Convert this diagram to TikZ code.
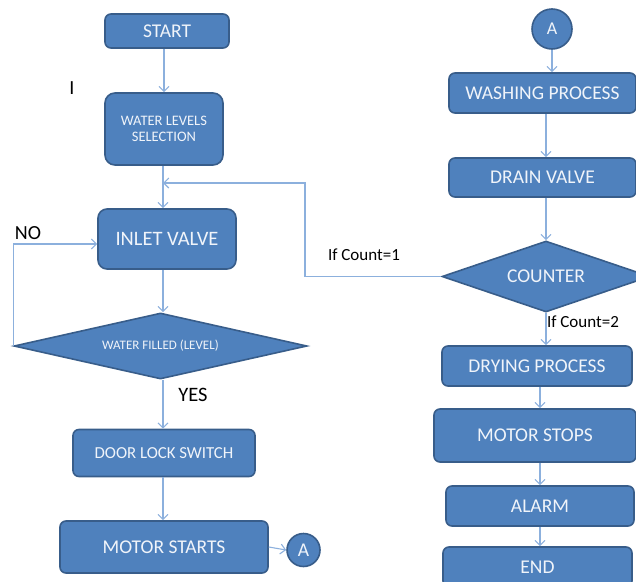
\documentclass[tikz,border=0pt]{standalone}
\usepackage{fontspec}
\setmainfont{Carlito}
\usepackage{tikz}
\usetikzlibrary{arrows.meta}
\usetikzlibrary{shapes.geometric}
\definecolor{boxfill}{RGB}{79,129,189}
\definecolor{boxline}{RGB}{56,93,138}
\definecolor{linkline}{RGB}{140,176,221}
\definecolor{boxtext}{RGB}{240,244,250}
\tikzset{>={Straight Barb[length=5pt,width=10pt]}}
\tikzset{
    procbox/.style={draw=boxline, fill=boxfill, line width=1.6pt, rounded corners=6pt,
        text=boxtext, inner sep=0pt, align=center},
    decision/.style={diamond, draw=boxline, fill=boxfill, line width=1.6pt,
        text=boxtext, inner sep=0pt},
    connector/.style={circle, draw=boxline, fill=boxfill, line width=1.6pt,
        text=boxtext, inner sep=0pt},
    link/.style={draw=linkline, line width=1.1pt},
    tag/.style={text=black, inner sep=0pt}
}
\newcommand{\fs}[1]{\fontsize{#1}{1.15\dimexpr#1pt\relax}\selectfont}

\begin{document}
\begin{tikzpicture}[x=1pt, y=-1pt]
            \useasboundingbox (0,0) rectangle (636,581);
            \clip (0,0) rectangle (636,581);
            % left column
            \node[procbox, minimum width=124pt, minimum height=34pt, font=\fs{19.5}] (start) at (167,31) {START};
            \node[procbox, rounded corners=10pt, minimum width=118pt, minimum height=72pt, font=\fs{14.5}] (wls) at (164,129) {WATER LEVELS\\SELECTION};
            \node[procbox, rounded corners=9pt, minimum width=138pt, minimum height=60pt, font=\fs{20.5}] (inlet) at (167,239) {INLET VALVE};
            \node[decision, minimum width=293pt, minimum height=66pt, aspect=4.4, font=\fs{13}] (filled) at (160.5,346) {WATER FILLED (LEVEL)};
            \node[procbox, minimum width=182pt, minimum height=47pt, font=\fs{16.8}] (door) at (164,453) {DOOR LOCK SWITCH};
            \node[procbox, minimum width=208pt, minimum height=52pt, font=\fs{19.5}] (mstart) at (164,547) {MOTOR STARTS};
            \node[connector, minimum size=33pt, font=\fs{19.5}] (conA) at (303.5,550) {A};
            % right column
            \node[connector, minimum size=40pt, font=\fs{18}] (conB) at (552,29) {A};
            \node[procbox, minimum width=187pt, minimum height=40pt, font=\fs{19.5}] (wash) at (542.5,93) {WASHING PROCESS};
            \node[procbox, minimum width=187pt, minimum height=39pt, font=\fs{19.5}] (drain) at (542.5,177.5) {DRAIN VALVE};
            \node[decision, minimum width=208pt, minimum height=71pt, aspect=2.9, font=\fs{19.5}] (counter) at (546,276.5) {COUNTER};
            \node[procbox, minimum width=190pt, minimum height=40pt, font=\fs{19.5}] (dry) at (537,366) {DRYING PROCESS};
            \node[procbox, minimum width=202pt, minimum height=53pt, font=\fs{19.5}] (stops) at (535,435.5) {MOTOR STOPS};
            \node[procbox, minimum width=188pt, minimum height=40pt, font=\fs{19.5}] (alarm) at (540,506) {ALARM};
            \node[procbox, minimum width=189pt, minimum height=40pt, font=\fs{19.5}] (end) at (537.5,567) {END};
            % labels
            \node[tag, font=\fs{20}] (no) at (28,233) {NO};
            \node[tag, font=\fs{20.5}] (yes) at (193,395) {YES};
            \node[tag, font=\fs{17}] (cnt1) at (364,255) {If Count=1};
            \node[tag, font=\fs{17}] (cnt2) at (583,322) {If Count=2};
            \node[tag, font=\fs{20}] (stray) at (72,88) {I};
            % connectors
            \coordinate (join) at (163,183);
            \coordinate (loop) at (305,183);
            \draw[link, ->] (wls.north |- start.south) -- (wls.north);
            \draw[link] (wls.south -| join) -- (join);
            \draw[link, ->] (join) -- (join |- inlet.north);
            \draw[link, ->] (counter.west) -| (loop) -- (join);
            \draw[link, ->] (join |- inlet.south) -- (join |- filled.north);
            \draw[link, ->] (filled.west) |- ([yshift=-5pt]inlet.west);
            \draw[link, ->] (join |- filled.south) -- (join |- door.north);
            \draw[link, ->] (join |- door.south) -- (join |- mstart.north);
            \draw[link, ->] (mstart.east) -- (conA.west);
            \draw[link, ->] (conB.south) -- (conB.south |- wash.north);
            \draw[link, ->] (wash.south -| counter.north) -- (drain.north -| counter.north);
            \draw[link, ->] (drain.south -| counter.north) -- (counter.north);
            \draw[link, ->] (counter.south) -- (counter.south |- dry.north);
            \draw[link, ->] (dry.south -| alarm.north) -- (stops.north -| alarm.north);
            \draw[link, ->] (stops.south -| alarm.north) -- (alarm.north);
            \draw[link, ->] (alarm.south) -- (alarm.south |- end.north);
        \end{tikzpicture}
\end{document}
